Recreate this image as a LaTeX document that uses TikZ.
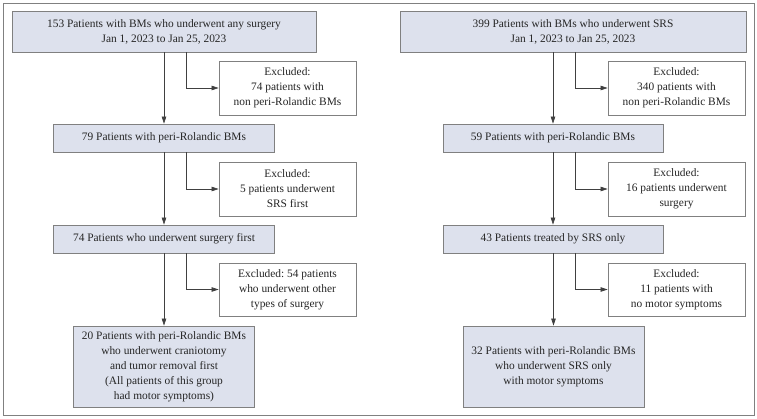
\documentclass[tikz,border=0pt]{standalone}
\usepackage{fontspec}
\setmainfont{Liberation Serif}
\usetikzlibrary{arrows.meta}
\definecolor{boxfill}{HTML}{DDE1ED}
\definecolor{boxline}{HTML}{808080}
\definecolor{arrline}{HTML}{404040}
\tikzset{
  base/.style={draw=boxline, line width=0.8pt, align=center, inner sep=0pt,
    font=\fontsize{11.4}{15}\selectfont\frenchspacing, text=black!85},
  gbox/.style={base, fill=boxfill},
  wbox/.style={base, fill=white, minimum width=137pt, minimum height=54pt},
  arr/.style={draw=arrline, line width=0.7pt, -{Triangle[length=7pt,width=4.5pt]}}
}
\begin{document}
\begin{tikzpicture}[x=1pt,y=-1pt]
\useasboundingbox (0,0) rectangle (757,418);
\draw[boxline, line width=0.8pt] (3,3) rectangle (754,415);
% left column
\node[gbox, minimum width=304pt, minimum height=41pt] (a1) at (164,31.5) {153 Patients with BMs who underwent any surgery\\Jan 1, 2023 to Jan 25, 2023};
\node[wbox] (e1) at (287.5,88) {Excluded:\\74 patients with\\non peri-Rolandic BMs};
\node[gbox, minimum width=221pt, minimum height=28pt] (a2) at (164,138) {79 Patients with peri-Rolandic BMs};
\node[wbox] (e2) at (287.5,189) {Excluded:\\5 patients underwent\\SRS first};
\node[gbox, minimum width=221pt, minimum height=28pt] (a3) at (164,239) {74 Patients who underwent surgery first};
\node[wbox, minimum height=53pt] (e3) at (287.5,289.5) {Excluded: 54 patients\\who underwent other\\types of surgery};
\node[gbox, minimum width=181pt, minimum height=81pt] (a4) at (164,366.5) {20 Patients with peri-Rolandic BMs\\who underwent craniotomy\\and tumor removal first\\(All patients of this group\\had motor symptoms)};
\draw[arr] (a1) -- (a2);
\draw[arr] (a2) -- (a3);
\draw[arr] (a3) -- (a4);
\draw[arr] ([xshift=22pt]a1.south) |- (e1.west);
\draw[arr] ([xshift=22pt]a2.south) |- (e2.west);
\draw[arr] ([xshift=22pt]a3.south) |- (e3.west);
% right column
\node[gbox, minimum width=346pt, minimum height=41pt] (b1) at (573,31.5) {399 Patients with BMs who underwent SRS\\Jan 1, 2023 to Jan 25, 2023};
\node[wbox] (f1) at (676.5,88) {Excluded:\\340 patients with\\non peri-Rolandic BMs};
\node[gbox, minimum width=220pt, minimum height=28pt] (b2) at (553,138) {59 Patients with peri-Rolandic BMs};
\node[wbox] (f2) at (676.5,189) {Excluded:\\16 patients underwent\\surgery};
\node[gbox, minimum width=220pt, minimum height=28pt] (b3) at (553,239) {43 Patients treated by SRS only};
\node[wbox, minimum height=53pt] (f3) at (676.5,289.5) {Excluded:\\11 patients with\\no motor symptoms};
\node[gbox, minimum width=181pt, minimum height=81pt] (b4) at (553.5,366.5) {32 Patients with peri-Rolandic BMs\\who underwent SRS only\\with motor symptoms};
\coordinate (bx) at ([xshift=22pt]b2.north);
\draw[arr] (b1.south -| b2.north) -- (b2.north);
\draw[arr] (b2) -- (b3);
\draw[arr] (b3.south -| b4.north) -- (b4.north);
\draw[arr] (bx |- b1.south) |- (f1.west);
\draw[arr] (bx |- b2.south) |- (f2.west);
\draw[arr] (bx |- b3.south) |- (f3.west);
\end{tikzpicture}
\end{document}
